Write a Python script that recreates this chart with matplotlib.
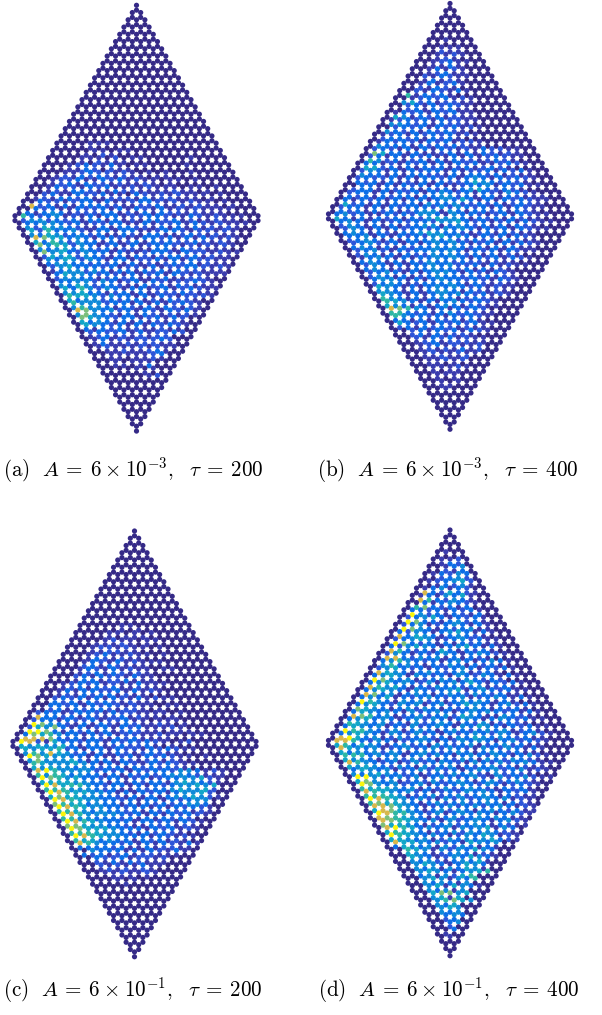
import matplotlib
matplotlib.use("Agg")
import matplotlib.pyplot as plt
import numpy as np
from matplotlib.colors import ListedColormap

plt.rcParams["mathtext.fontset"] = "cm"

W, H = 602, 1015
N_ROWS = 118
A_PX = 8.38  # lattice constant in pixels

LEVEL_COLOURS = ["#352a87", "#3a3cae", "#2d55d8", "#0d6ee6", "#0f8ad8",
                 "#12a6c8", "#2db7a5", "#7cbf7c", "#d8b84c", "#f9f50f"]

# one string per horizontal row of sites, top to bottom, one digit (colour level)
# per site. Sites not written at the right end of a row are level 0.
PANEL_A = [""] * 38 + [
    "0000111", "000010",
    "00000110110", "00001021",
    "000011102011000001", "0000102111",
    "0001232131011000010", "00011320211",
    "0001123221210101001", "0012132321211011",
    "00122311323121101101", "0012313221211210100",
    "001322132311212111011010", "0012133211322111121101",
    "0023113223110321212111010", "01213323112221312211101",
    "00322123313112332121211010", "08231313332211223112121101",
    "00323113223131321312121111", "0313431222331213132212111",
    "0632341213133122332113212111", "0244232313313121332312112110",
    "03344323122331131223132121110", "04254432113133221313131212100",
    "05263342133133112332122121", "04354233231132133112321211",
    "08755343133211332313132121", "05364243313123132322321210",
    "07465243123131233212121210", "04345343231221133132211100",
    "07453243313112332132212110", "02545243213132123323121100",
    "04354243133122313132211", "03443323231312123231211",
    "02453332312213122332121", "01344243133132313221110",
    "03544323213123132121110", "02443312323112311221",
    "03344243123132122321", "04354233211323132111",
    "05364243133123123211", "04453312313122232110",
    "06554243313132122210", "05344232331213221",
    "06444233131312321", "04644313213132121",
    "08743423132132310", "04743213132121210",
    "07543233123132", "05343131312121",
    "05432313132321", "03132312112110",
    "02322313122320", "01231212122",
    "0131212223200", "013112122110",
    "01211121211", "0011211231",
    "0011111230", "001101121",
    "00101110", "0011013",
    "0000101", "000001",
    "0000012", "",
]

PANEL_B = [""] * 10 + [
    "001", "00",
    "00111", "00211",
    "0011210", "001210",
    "0012311", "0011310",
    "00131210", "0012311",
    "00213211", "0013121",
    "001312310", "0021321",
    "0021321310", "0613231",
    "0012323121", "0452312211",
    "00231323210", "0023132311",
    "01323132311", "05413231211",
    "012323132211", "04432313221",
    "0023231323121", "04323132321",
    "0123132323121", "02332313231",
    "01323213231221", "04333132323211",
    "0232131313212132211", "0753313112313132121",
    "02313132311313123211", "0642312313132212321",
    "033121323131323112321", "0552313132312312321",
    "0243131323313122313231", "0433131332213133231211",
    "02322313133231343132321", "0323131213132235432321",
    "003313132313112334132311", "0233132231323134532321",
    "0233131323134323132143210", "0323132331334423133132111",
    "03132313133134353131323211", "0523131323143342232312321",
    "023313132333242432313132110", "0323132312344143133231321",
    "0342311323244314332123132110", "05313132313245443132313211",
    "034313123233244532312313211", "0243131312344134323131321",
    "02431313233234343132313211", "0343132133454332123132110",
    "0334131323245343132313210", "0234313133343422323132110",
    "023422313134343123131321", "03431313233434323131311",
    "02342132334343132313211", "0243131322434323131210",
    "0134313133434313231321", "034313132433232212110",
    "024313133434223131211", "03431213343323131210",
    "02343131344313213210", "0243131234332323121",
    "0344313134332321321", "023431233343132121",
    "054313134343231211", "04431313443132121",
    "05431313434323121", "0643131343123210",
    "065431313432321", "054313134313211",
    "0876431313232", "06632313423211",
    "0643323132321", "033131323131",
    "0532313232311", "023132321211",
    "0023132313210", "0023131221",
    "002132312110", "00123122211",
    "00123121120", "0012121312",
    "0012112110", "001121120",
    "00112120", "0011010",
    "0011121", "001011",
    "00111", "00101",
    "00101", "0011",
    "0010", "000",
]

PANEL_C = [""] * 26 + [
    "000001100", "000001010",
    "0000110101", "000010111",
    "00001211011", "0001112101",
    "000122121101", "000112211",
    "00012311211010", "0001321211",
    "00013213121110", "00023132111",
    "000132131211011", "000123132121",
    "00023132213110", "0001331223111",
    "001232312113111", "00123132311211",
    "0013133223131210", "0012132331211",
    "00232313132131211", "00323132321211",
    "003323132321211011", "0023132332122101",
    "0233123321322111101", "083323132123121101",
    "0233132231223110111", "09743213132132112101",
    "025473131231323111210", "099731323131232110111",
    "03756433132312211211011", "08887323132132311110",
    "0982153323313232321012", "05454453133123223101",
    "05455623133132213232110", "04648542313132123211",
    "09754433131123132321101", "04744453133132123121",
    "0654445431313213232110", "05454434323313232321",
    "089644442323132332443121", "064653433131323234432111",
    "09764533233123123344521", "05555443313132331454321",
    "0985664323313132344545", "0666444323113233454452",
    "098655443131323134452", "0575544332131313445421",
    "09865443323133132344", "07655343313132323443",
    "09865443323313132321", "06654343323132323121",
    "0986444432313132321", "06644333231313232",
    "098654333133231321", "07754433211323121",
    "09755543331323121", "066654432132321",
    "0986544333132121", "065534331323121",
    "0864332313132131", "033332311312211",
    "00433313132131", "0323123122111",
    "00322312212", "00213132111",
    "0021211311", "001212121",
    "001121121", "00011101",
    "000101", "00001",
]

PANEL_D = [""] * 6 + [
    "010", "",
    "0112", "0132",
    "00134", "00213",
    "013243", "002342",
    "0123452", "0013241",
    "0134132", "08325321",
    "01314351", "08632431",
    "003134321", "06732313",
    "0332313231", "0942313213",
    "02345313231", "09733134231",
    "023412343131", "097431323411",
    "0324313453131", "083543134321",
    "02345412342311", "09732313132311",
    "032454313453131", "08632315313231",
    "0243132343134321", "08832434131321",
    "03464323134313431", "04634313243132310",
    "024532313234313231", "08543134323412310",
    "0345414323143243131", "09743412343143232",
    "03453432413435313231", "08645313243323412310",
    "034543143234513432311", "08734134313432432311",
    "0343513234323412343131", "09643143423134343131",
    "03453243413423543134231", "07543134243132343132310",
    "035434314234313434323131", "08763412342342543114321",
    "0345343134243134313432311", "06543423142343132412321",
    "03543413242343143543132311", "09664324134313432343412310",
    "034543143242313234324313421", "08953412423423143543432311",
    "0886324312343132434313423210", "05635431342314323412342311",
    "08543412342342432143243131", "05343424313432343134323110",
    "06663434134243134324313421", "05443134242313243143243210",
    "086432312423432143242343110", "05454324314234132342312110",
    "03543412342423134342341210", "04345432312324342142321",
    "09942342413432342142342110", "05743412324234313423421",
    "09743423413234324312321", "06555434132423432132310",
    "08654342312324343132310", "06665412342342343132110",
    "098654342142423434121", "0675543134234234313210",
    "088754312342342343121", "058754313424313432311",
    "09866432413434313421", "08765431234234343110",
    "08765434142343134211", "07554312342343132110",
    "08965343414345143", "05654312342434321",
    "09654343124354121", "05543412434345321",
    "08554342315434", "03543414243131",
    "0065414243543", "0054312343121",
    "0054312435431", "004342134351",
    "00454313543", "00434143541",
    "00454313456", "003414256",
    "004541436", "00434314",
    "004515431", "0043414",
    "0057745", "004515",
    "00467540", "00435",
    "00454", "00434",
    "00343", "0023",
    "0034", "002",
    "003", "01",
    "01", "0",
]

CAPTIONS = [r"$\mathrm{(a)}\ \ A\>=\>6\>\times\>10^{-3},\ \ \tau\>=\>200$",
            r"$\mathrm{(b)}\ \ A\>=\>6\>\times\>10^{-3},\ \ \tau\>=\>400$",
            r"$\mathrm{(c)}\ \ A\>=\>6\>\times\>10^{-1},\ \ \tau\>=\>200$",
            r"$\mathrm{(d)}\ \ A\>=\>6\>\times\>10^{-1},\ \ \tau\>=\>400$"]

# centre x and top y of each diamond, caption left x and centre y, in pixels
PANEL_PX = [(136.5, 5.3, 3, 470), (450, 3.5, 317, 470),
            (134.5, 531, 3, 990), (450, 530, 318, 990)]


def lattice_sites(rows):
    """Honeycomb diamond: row pairs with vertical bonds, widening to 30 sites."""
    xs, ys, vals = [], [], []
    bond = 1 / np.sqrt(3)
    for r in range(N_ROWS):
        k = r // 2
        n = k + 1 if k < 30 else 59 - k
        text = rows[r] if r < len(rows) else ""
        text = text.ljust(n, "0")[:n]
        for col, ch in enumerate(text):
            xs.append(col - (n - 1) / 2)
            ys.append(-(1.5 * k + (r % 2)) * bond)
            vals.append(int(ch))
    return np.array(xs), np.array(ys), np.array(vals)


def main():
    fig = plt.figure(figsize=(W / 100, H / 100), dpi=100)
    cmap = ListedColormap(LEVEL_COLOURS)
    panels = [PANEL_A, PANEL_B, PANEL_C, PANEL_D]

    for rows, caption, (cx, top, text_x, text_y) in zip(panels, CAPTIONS, PANEL_PX):
        x, y, v = lattice_sites(rows)
        ymin, ymax = y.min() - 1, y.max() + 1
        xmax = 15.5
        width = 2 * xmax * A_PX
        height = (ymax - ymin) * A_PX
        left = cx - xmax * A_PX
        upper = top - A_PX
        ax = fig.add_axes([left / W, 1 - (upper + height) / H, width / W, height / H])
        ax.scatter(x, y, c=v, cmap=cmap, vmin=-0.5, vmax=9.5, s=14, linewidths=0,
                   clip_on=False)
        ax.set_xlim(-xmax, xmax)
        ax.set_ylim(ymin, ymax)
        ax.axis("off")
        fig.text(text_x / W, 1 - text_y / H, caption, fontsize=15.2, va="center", ha="left")

    fig.savefig("out.png", dpi=100)


if __name__ == "__main__":
    main()
